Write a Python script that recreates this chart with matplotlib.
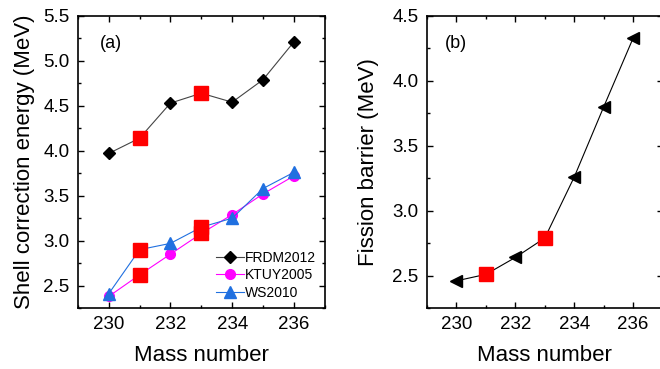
import numpy as np
import matplotlib
matplotlib.use("Agg")
import matplotlib.pyplot as plt
from matplotlib.ticker import MultipleLocator

plt.rcParams['font.family'] = ['Liberation Sans', 'DejaVu Sans']

mass = [230, 231, 232, 233, 234, 235, 236]
frdm2012 = [3.97, 4.14, 4.53, 4.64, 4.54, 4.79, 5.21]
ktuy2005 = [2.38, 2.62, 2.85, 3.08, 3.29, 3.52, 3.72]
ws2010 = [2.41, 2.90, 2.97, 3.15, 3.25, 3.58, 3.76]
barrier = [2.46, 2.51, 2.64, 2.79, 3.26, 3.80, 4.33]
# odd-mass nuclei highlighted with red squares
highlight = [231, 233]

BLUE = '#2070e0'

fig = plt.figure(figsize=(6.6, 3.69), dpi=100)
ax1 = fig.add_axes([0.118, 0.165, 0.374, 0.792])
ax2 = fig.add_axes([0.647, 0.165, 0.357, 0.792])

hi = [mass.index(m) for m in highlight]

ax1.plot(mass, frdm2012, color='#444444', lw=0.8, marker='D', ms=6,
         mfc='black', mec='black', label='FRDM2012')
ax1.plot(mass, ktuy2005, color='magenta', lw=0.8, marker='o', ms=7,
         mfc='magenta', mec='magenta', label='KTUY2005')
ax1.plot(mass, ws2010, color=BLUE, lw=0.8, marker='^', ms=8,
         mfc=BLUE, mec=BLUE, label='WS2010')
for ys in (frdm2012, ktuy2005, ws2010):
    ax1.plot([mass[i] for i in hi], [ys[i] for i in hi], 's', color='red',
             ms=10, ls='none', zorder=5)

ax1.set_xlim(229, 237)
ax1.set_ylim(2.25, 5.5)
ax1.yaxis.set_major_locator(MultipleLocator(0.5))
ax1.yaxis.set_minor_locator(MultipleLocator(0.25))
ax1.set_ylabel('Shell correction energy (MeV)', fontsize=16, labelpad=6)
ax1.text(0.09, 0.905, '(a)', transform=ax1.transAxes, fontsize=13,
         va='center')
ax1.legend(loc='lower right', frameon=False, fontsize=10, handlelength=2.0,
           handletextpad=0.1, labelspacing=0.25, borderaxespad=0.2,
           bbox_to_anchor=(1.0, 0.0))

ax2.plot(mass, barrier, color='black', lw=0.8, marker='<', ms=8,
         mfc='black', mec='black')
ax2.plot([mass[i] for i in hi], [barrier[i] for i in hi], 's', color='red',
         ms=10, ls='none', zorder=5)
ax2.set_xlim(229, 237)
ax2.set_ylim(2.25, 4.5)
ax2.yaxis.set_major_locator(MultipleLocator(0.5))
ax2.yaxis.set_minor_locator(MultipleLocator(0.25))
ax2.set_ylabel('Fission barrier (MeV)', fontsize=16, labelpad=10)
ax2.text(0.077, 0.905, '(b)', transform=ax2.transAxes, fontsize=13,
         va='center')

for ax in (ax1, ax2):
    ax.xaxis.set_major_locator(MultipleLocator(2))
    ax.xaxis.set_minor_locator(MultipleLocator(1))
    ax.set_xlabel('Mass number', fontsize=16, labelpad=8)
    ax.tick_params(which='both', direction='in', top=True, right=True,
                   labelsize=13.5, width=1)
    ax.tick_params(which='major', length=4.5, pad=6)
    ax.tick_params(which='minor', length=2.5)
    for sp in ax.spines.values():
        sp.set_linewidth(1.2)

fig.savefig('out.png', dpi=100)
